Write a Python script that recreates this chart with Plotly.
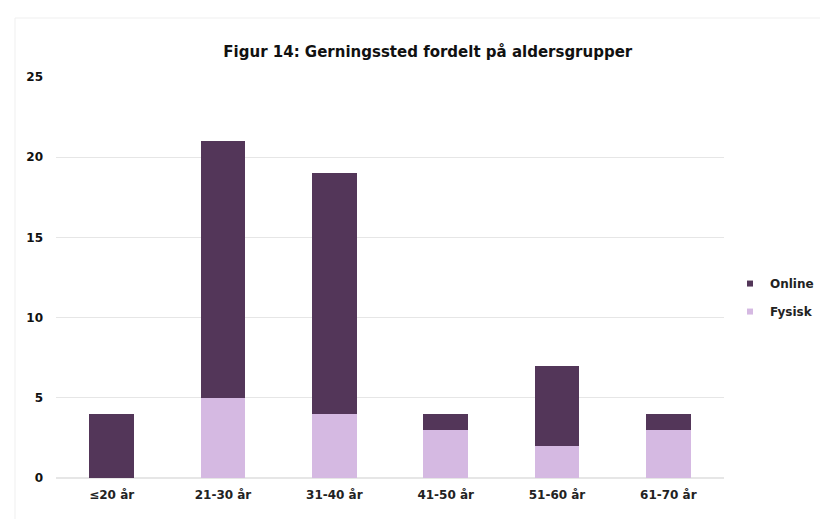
import plotly.graph_objects as go

categories = ["≤20 år", "21-30 år", "31-40 år", "41-50 år", "51-60 år", "61-70 år"]
fysisk = [0, 5, 4, 3, 2, 3]
online = [4, 16, 15, 1, 5, 1]
y_ticks = [0, 5, 10, 15, 20, 25]
series_names = ["Online", "Fysisk"]

FONT = "DejaVu Sans, Liberation Sans, Arial, sans-serif"
C_ONLINE = "#533659"
C_FYSISK = "#d5b9e2"

W, H = 828, 519
ML, MR, MT, MB = 48, 112, 69, 49
PW, PH = W - ML - MR, H - MT - MB

fig = go.Figure()
fig.add_trace(go.Bar(x=categories, y=fysisk, name=series_names[1], showlegend=False,
                     marker=dict(color=C_FYSISK, line=dict(width=0))))
fig.add_trace(go.Bar(x=categories, y=online, name=series_names[0], showlegend=False,
                     marker=dict(color=C_ONLINE, line=dict(width=0))))
# legend entries with small square markers
for nm, col, grp in [(series_names[0], C_ONLINE, "a"), (series_names[1], C_FYSISK, "b")]:
    fig.add_trace(go.Scatter(x=[None], y=[None], mode="markers", name=nm,
                             legendgroup=grp,
                             marker=dict(symbol="square", size=6, color=col)))

# faint chart border (top and left)
fig.add_shape(type="line", xref="paper", yref="paper",
              x0=(7 - ML) / PW, x1=(W - 10 - ML) / PW,
              y0=(H - MB - 10) / PH, y1=(H - MB - 10) / PH,
              line=dict(color="#efefef", width=1))
fig.add_shape(type="line", xref="paper", yref="paper",
              x0=(7 - ML) / PW, x1=(7 - ML) / PW,
              y0=(H - MB - 10) / PH, y1=(-MB + 5) / PH,
              line=dict(color="#efefef", width=1))

fig.update_layout(
    barmode="stack",
    bargap=0.6,
    width=W, height=H,
    paper_bgcolor="white", plot_bgcolor="white",
    margin=dict(l=ML, r=MR, t=MT, b=MB),
    title=dict(text="<b>Figur 14: Gerningssted fordelt på aldersgrupper</b>",
               x=0.507, xanchor="center", y=1 - 44 / H, yanchor="middle",
               font=dict(family=FONT, size=15, color="#111")),
    font=dict(family=FONT, size=12, color="#222"),
    legend=dict(x=1.0 + 6 / PW, xanchor="left", y=0.45, yanchor="middle",
                font=dict(family=FONT, size=12, color="#222", weight="bold"),
                itemwidth=30, tracegroupgap=9, traceorder="grouped"),
    showlegend=True,
)
fig.update_xaxes(showgrid=False, showline=False, ticks="",
                 ticklabelstandoff=8,
                 tickfont=dict(family=FONT, size=12, color="#222", weight="bold"))
fig.update_yaxes(range=[0, 25], tickvals=y_ticks, showgrid=True,
                 gridcolor="#e6e6e6", gridwidth=1, zeroline=True,
                 zerolinecolor="#e6e6e6", showline=False, ticks="",
                 tickfont=dict(family=FONT, size=12, color="#111", weight="bold"),
                 ticklabelstandoff=12)
fig.write_html("out.html")
